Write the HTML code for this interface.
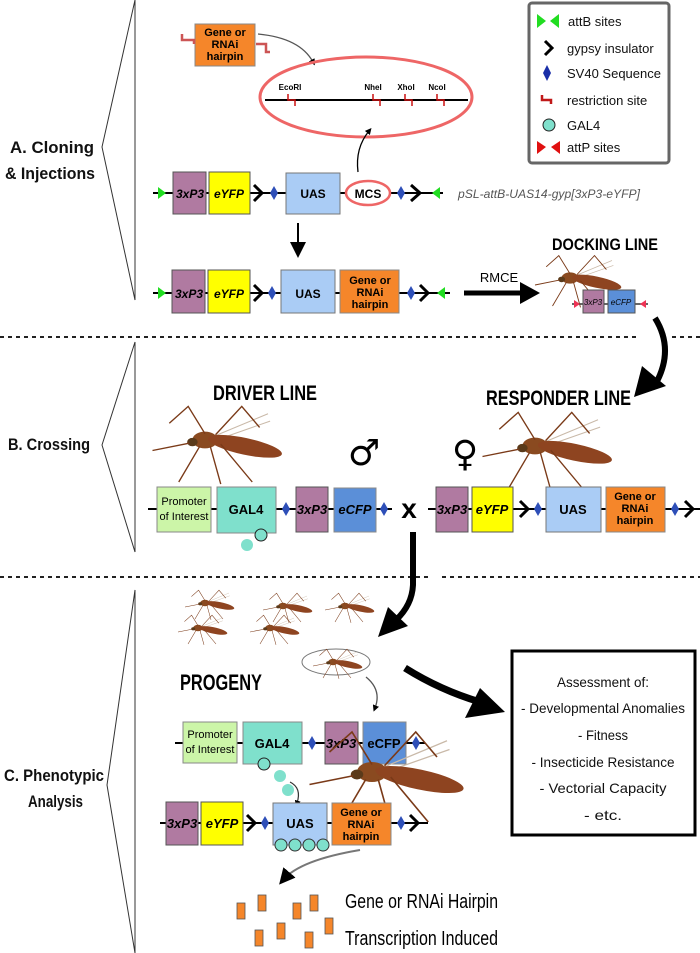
<!DOCTYPE html>
<html><head><meta charset="utf-8"><style>
body{margin:0;background:#fff}
svg{display:block}
text{font-family:"Liberation Sans",sans-serif}
.b{font-weight:bold}
</style></head><body>
<svg width="700" height="953" viewBox="0 0 700 953" xmlns="http://www.w3.org/2000/svg">
<defs>
<marker id="ah" markerWidth="8" markerHeight="8" refX="5" refY="4" orient="auto"><path d="M0,0 L8,4 L0,8 z" fill="#000"/></marker>
<marker id="bh" markerWidth="5" markerHeight="5" refX="2" refY="2.5" orient="auto"><path d="M0,0 L5,2.5 L0,5 z" fill="#000"/></marker>
<g id="mos">
<path d="M0,0 L60,-25 M5,2 L62,-18" stroke="#c9b9a8" stroke-width="1" fill="none"/>
<ellipse cx="0" cy="0" rx="12" ry="8" fill="#8a4a20"/>
<ellipse cx="38" cy="6" rx="36" ry="8" fill="#8e4420" transform="rotate(12 38 6)"/>
<ellipse cx="-12" cy="2" rx="5" ry="4" fill="#5a3a1a"/>
<path d="M-15,3 L-50,10 M-5,6 L-25,40 M5,6 L15,42 M10,-5 L35,-32 L52,-12 M0,-6 L-16,-32 L-34,-16 M15,4 L45,40" stroke="#7a3a18" stroke-width="1.3" fill="none"/>
</g>
</defs>

<!-- left brackets -->
<g fill="none" stroke="#333" stroke-width="1">
<path d="M135,0 L102,147 L135,300 Z"/>
<path d="M135,342 L102,445 L135,552 Z"/>
<path d="M135,590 L107,785 L135,953 Z"/>
</g>
<g class="b" font-size="17" fill="#111">
<text x="10" y="153" textLength="84" lengthAdjust="spacingAndGlyphs">A. Cloning</text>
<text x="5" y="179" textLength="90" lengthAdjust="spacingAndGlyphs">&amp; Injections</text>
<text x="8" y="450" textLength="82" lengthAdjust="spacingAndGlyphs">B. Crossing</text>
<text x="4" y="781" textLength="100" lengthAdjust="spacingAndGlyphs">C. Phenotypic</text>
<text x="28" y="807" textLength="55" lengthAdjust="spacingAndGlyphs">Analysis</text>
</g>
<!-- separators -->
<g stroke="#222" stroke-width="2" stroke-dasharray="4,4">
<line x1="0" y1="337" x2="640" y2="337"/><line x1="672" y1="337" x2="700" y2="337"/>
<line x1="0" y1="577" x2="432" y2="577"/><line x1="442" y1="577" x2="700" y2="577"/>
</g>

<!-- Legend -->
<rect x="529" y="3" width="140" height="160" rx="3" fill="#fff" stroke="#666" stroke-width="3"/>
<g font-size="13" fill="#111">
<polygon points="537,14 546,21 537,28" fill="#22dd22"/><polygon points="559,14 550,21 559,28" fill="#22dd22"/>
<text x="568" y="26">attB sites</text>
<polyline points="545,41 552,48 545,55" fill="none" stroke="#000" stroke-width="3"/>
<text x="567" y="53">gypsy insulator</text>
<polygon points="547,65 551,73 547,81 543,73" fill="#1a2fa8"/>
<text x="567" y="78">SV40 Sequence</text>
<path d="M542,95 L542,100 L551,100 L551,104" fill="none" stroke="#c01818" stroke-width="2.5"/>
<text x="567" y="105">restriction site</text>
<circle cx="549" cy="125" r="6" fill="#7fe0cc" stroke="#222" stroke-width="1"/>
<text x="567" y="130">GAL4</text>
<polygon points="537,141 546,147 537,154" fill="#e01010"/><polygon points="560,141 551,147 560,154" fill="#e01010"/>
<text x="567" y="152">attP sites</text>
</g>

<!-- Section A -->
<rect x="195" y="24" width="60" height="42" fill="#f5862a" stroke="#888"/>
<g class="b" font-size="11" text-anchor="middle"><text x="225" y="36">Gene or</text><text x="225" y="48">RNAi</text><text x="225" y="60">hairpin</text></g>
<path d="M182,34 L182,40 L194,40 L194,44 M256,44 L266,44 L266,52 L270,52" fill="none" stroke="#cc5555" stroke-width="2.5"/>
<path d="M258,34 Q300,38 313,62" fill="none" stroke="#555" stroke-width="1.3" marker-end="url(#bh)"/>
<ellipse cx="366" cy="97" rx="106" ry="40" fill="none" stroke="#ee6666" stroke-width="3"/>
<line x1="265" y1="100" x2="468" y2="100" stroke="#000" stroke-width="2"/>
<g fill="none" stroke="#cc1111" stroke-width="1.5">
<path d="M288,94 L288,100 L295,100 L295,106"/><path d="M373,94 L373,100 L380,100 L380,106"/><path d="M405,94 L405,100 L412,100 L412,106"/><path d="M437,94 L437,100 L444,100 L444,106"/>
</g>
<g class="b" font-size="8" text-anchor="middle"><text x="290" y="90">EcoRI</text><text x="373" y="90">NheI</text><text x="406" y="90">XhoI</text><text x="437" y="90">NcoI</text></g>
<path d="M358,172 Q355,148 369,131" fill="none" stroke="#000" stroke-width="1.3" marker-end="url(#bh)"/>

<!-- Row 1 -->
<line x1="153" y1="193" x2="443" y2="193" stroke="#000" stroke-width="2"/>
<polygon points="158,187 166,193 158,199" fill="#22dd22"/>
<rect x="173" y="172" width="33" height="42" fill="#b07aa1" stroke="#555"/>
<rect x="209" y="172" width="41" height="42" fill="#ffff00" stroke="#555"/>
<polyline points="254,185 262,193 254,201" fill="none" stroke="#000" stroke-width="3"/>
<polygon points="274,186 278,193 274,200 270,193" fill="#2e4fb8"/>
<rect x="286" y="173" width="54" height="41" fill="#aaccf5" stroke="#777"/>
<ellipse cx="368" cy="193" rx="22" ry="12" fill="#fff" stroke="#ee6666" stroke-width="2.5"/>
<polygon points="401,186 405,193 401,200 397,193" fill="#2e4fb8"/>
<polyline points="411,185 420,193 411,201" fill="none" stroke="#000" stroke-width="3"/>
<polygon points="440,187 432,193 440,199" fill="#22dd22"/>
<g class="b" font-size="12" text-anchor="middle"><text x="190" y="198" font-style="italic">3xP3</text><text x="229" y="198" font-style="italic">eYFP</text><text x="313" y="198">UAS</text><text x="368" y="198">MCS</text></g>
<text x="458" y="198" font-size="12" font-style="italic" fill="#555" textLength="182" lengthAdjust="spacingAndGlyphs">pSL-attB-UAS14-gyp[3xP3-eYFP]</text>
<line x1="298" y1="223" x2="298" y2="252" stroke="#000" stroke-width="2" marker-end="url(#ah)"/>

<!-- Row 2 -->
<line x1="153" y1="293" x2="450" y2="293" stroke="#000" stroke-width="2"/>
<polygon points="158,287 166,293 158,299" fill="#22dd22"/>
<rect x="172" y="270" width="33" height="43" fill="#b07aa1" stroke="#555"/>
<rect x="208" y="270" width="42" height="43" fill="#ffff00" stroke="#555"/>
<polyline points="254,285 262,293 254,301" fill="none" stroke="#000" stroke-width="3"/>
<polygon points="272,286 276,293 272,300 268,293" fill="#2e4fb8"/>
<rect x="281" y="270" width="54" height="43" fill="#aaccf5" stroke="#777"/>
<rect x="340" y="270" width="59" height="43" fill="#f5862a" stroke="#888"/>
<polygon points="411,286 415,293 411,300 407,293" fill="#2e4fb8"/>
<polyline points="420,285 428,293 420,301" fill="none" stroke="#000" stroke-width="3"/>
<polygon points="445,287 437,293 445,299" fill="#22dd22"/>
<g class="b" font-size="12" text-anchor="middle"><text x="189" y="298" font-style="italic">3xP3</text><text x="229" y="298" font-style="italic">eYFP</text><text x="308" y="298">UAS</text></g>
<g class="b" font-size="11" text-anchor="middle"><text x="370" y="284">Gene or</text><text x="370" y="296">RNAi</text><text x="370" y="308">hairpin</text></g>
<text x="499" y="282" font-size="13" text-anchor="middle">RMCE</text>
<line x1="464" y1="293" x2="522" y2="293" stroke="#000" stroke-width="5"/>
<polygon points="520,282 540,293 520,304" fill="#000"/>

<!-- Docking -->
<text x="552" y="250" class="b" font-size="17" textLength="106" lengthAdjust="spacingAndGlyphs">DOCKING LINE</text>
<use href="#mos" transform="translate(570,278) scale(0.7)"/>
<line x1="572" y1="304" x2="648" y2="304" stroke="#333" stroke-width="1.5"/>
<polygon points="574,300 580,304 574,308" fill="#ee3355"/><polygon points="646,300 640,304 646,308" fill="#ee3355"/>
<rect x="583" y="290" width="21" height="23" fill="#b07aa1" stroke="#555"/>
<rect x="608" y="290" width="27" height="23" fill="#5b8fd8" stroke="#555"/>
<text x="593" y="305" font-size="8" font-style="italic" text-anchor="middle">3xP3</text>
<text x="621" y="305" font-size="8" font-style="italic" text-anchor="middle">eCFP</text>
<path d="M655,318 Q675,350 655,385" fill="none" stroke="#000" stroke-width="6"/>
<polygon points="634,397 642,366 666,386" fill="#000"/>

<!-- Section B -->
<text x="213" y="400" class="b" font-size="21" textLength="104" lengthAdjust="spacingAndGlyphs">DRIVER LINE</text>
<text x="486" y="405" class="b" font-size="21" textLength="145" lengthAdjust="spacingAndGlyphs">RESPONDER LINE</text>
<use href="#mos" transform="translate(205,440) scale(1.05)"/>
<use href="#mos" transform="translate(535,446) scale(1.05)"/>
<text x="364" y="465" font-size="36" text-anchor="middle" style="font-family:'DejaVu Sans',sans-serif">♂</text>
<text x="465" y="466" font-size="36" text-anchor="middle" style="font-family:'DejaVu Sans',sans-serif">♀</text>
<line x1="148" y1="509" x2="392" y2="509" stroke="#000" stroke-width="2"/>
<rect x="157" y="487" width="54" height="45" fill="#ccf5a8" stroke="#888"/>
<rect x="217" y="487" width="59" height="46" fill="#7fe0cc" stroke="#888"/>
<polygon points="286,502 290,509 286,516 282,509" fill="#2e4fb8"/>
<rect x="296" y="487" width="32" height="45" fill="#b07aa1" stroke="#555"/>
<rect x="334" y="488" width="42" height="44" fill="#5b8fd8" stroke="#888"/>
<polygon points="384,502 388,509 384,516 380,509" fill="#2e4fb8"/>
<circle cx="247" cy="545" r="6" fill="#7fe0cc"/><circle cx="261" cy="535" r="6" fill="#7fe0cc" stroke="#222"/>
<g font-size="11" text-anchor="middle"><text x="184" y="505">Promoter</text><text x="184" y="520">of Interest</text></g>
<g class="b" font-size="13" text-anchor="middle"><text x="246" y="514">GAL4</text><text x="312" y="514" font-style="italic">3xP3</text><text x="355" y="514" font-style="italic">eCFP</text></g>
<text x="409" y="518" class="b" font-size="28" text-anchor="middle">x</text>
<line x1="428" y1="509" x2="700" y2="509" stroke="#000" stroke-width="2"/>
<rect x="436" y="487" width="32" height="45" fill="#b07aa1" stroke="#555"/>
<rect x="472" y="487" width="41" height="45" fill="#ffff00" stroke="#555"/>
<polyline points="520,501 528,509 520,517" fill="none" stroke="#000" stroke-width="3"/>
<polygon points="538,502 542,509 538,516 534,509" fill="#2e4fb8"/>
<rect x="546" y="487" width="55" height="45" fill="#aaccf5" stroke="#777"/>
<rect x="606" y="487" width="59" height="45" fill="#f5862a" stroke="#888"/>
<polygon points="675,502 679,509 675,516 671,509" fill="#2e4fb8"/>
<polyline points="685,501 693,509 685,517" fill="none" stroke="#000" stroke-width="3"/>
<g class="b" font-size="13" text-anchor="middle"><text x="452" y="514" font-style="italic">3xP3</text><text x="492" y="514" font-style="italic">eYFP</text><text x="573" y="514">UAS</text></g>
<g class="b" font-size="11" text-anchor="middle"><text x="635" y="500">Gene or</text><text x="635" y="512">RNAi</text><text x="635" y="524">hairpin</text></g>
<path d="M413,532 L413,585 Q412,605 396,620" fill="none" stroke="#000" stroke-width="6"/>
<polygon points="378,637 388,607 408,626" fill="#000"/>

<!-- Section C -->
<use href="#mos" transform="translate(205,603) scale(0.4)"/>
<use href="#mos" transform="translate(283,606) scale(0.4)"/>
<use href="#mos" transform="translate(345,606) scale(0.4)"/>
<use href="#mos" transform="translate(198,628) scale(0.4)"/>
<use href="#mos" transform="translate(270,628) scale(0.4)"/>
<ellipse cx="336" cy="662" rx="34" ry="13" fill="none" stroke="#777" stroke-width="1"/>
<use href="#mos" transform="translate(333,662) scale(0.4)"/>
<text x="180" y="690" class="b" font-size="22" textLength="82" lengthAdjust="spacingAndGlyphs">PROGENY</text>
<path d="M366,677 Q382,690 375,708" fill="none" stroke="#555" stroke-width="1.3" marker-end="url(#bh)"/>
<path d="M405,668 Q440,690 480,702" fill="none" stroke="#000" stroke-width="7"/>
<polygon points="505,712 465,718 480,688" fill="#000"/>
<rect x="512" y="651" width="183" height="184" fill="#fff" stroke="#000" stroke-width="3"/>
<g font-size="14" text-anchor="middle" fill="#111" lengthAdjust="spacingAndGlyphs">
<text x="603" y="687" textLength="92" lengthAdjust="spacingAndGlyphs">Assessment of:</text>
<text x="603" y="713" textLength="164" lengthAdjust="spacingAndGlyphs">- Developmental Anomalies</text>
<text x="603" y="740" textLength="50" lengthAdjust="spacingAndGlyphs">- Fitness</text>
<text x="603" y="767" textLength="143" lengthAdjust="spacingAndGlyphs">- Insecticide  Resistance</text>
<text x="603" y="793" textLength="127" lengthAdjust="spacingAndGlyphs">- Vectorial Capacity</text>
<text x="603" y="820" textLength="38" lengthAdjust="spacingAndGlyphs">- etc.</text>
</g>
<line x1="175" y1="743" x2="425" y2="743" stroke="#000" stroke-width="2"/>
<rect x="183" y="722" width="54" height="41" fill="#ccf5a8" stroke="#888"/>
<rect x="243" y="722" width="59" height="42" fill="#7fe0cc" stroke="#888"/>
<polygon points="312,736 316,743 312,750 308,743" fill="#2e4fb8"/>
<rect x="325" y="722" width="33" height="42" fill="#b07aa1" stroke="#555"/>
<rect x="363" y="722" width="43" height="42" fill="#5b8fd8" stroke="#888"/>
<polygon points="416,736 420,743 416,750 412,743" fill="#2e4fb8"/>
<g font-size="11" text-anchor="middle"><text x="210" y="738">Promoter</text><text x="210" y="753">of Interest</text></g>
<g class="b" font-size="13" text-anchor="middle"><text x="272" y="748">GAL4</text><text x="341" y="748" font-style="italic">3xP3</text><text x="384" y="748">eCFP</text></g>
<circle cx="264" cy="764" r="6" fill="#7fe0cc" stroke="#222"/><circle cx="280" cy="776" r="6" fill="#7fe0cc"/><circle cx="288" cy="790" r="6" fill="#7fe0cc"/>
<path d="M290,782 Q302,788 297,803" fill="none" stroke="#333" stroke-width="1.2" marker-end="url(#bh)"/>
<use href="#mos" transform="translate(372,772) scale(1.25)"/>
<line x1="160" y1="823" x2="428" y2="823" stroke="#000" stroke-width="2"/>
<rect x="166" y="802" width="32" height="43" fill="#b07aa1" stroke="#555"/>
<rect x="201" y="802" width="42" height="43" fill="#ffff00" stroke="#555"/>
<polyline points="247,815 255,823 247,831" fill="none" stroke="#000" stroke-width="3"/>
<polygon points="265,816 269,823 265,830 261,823" fill="#2e4fb8"/>
<rect x="273" y="803" width="54" height="42" fill="#aaccf5" stroke="#777"/>
<circle cx="281" cy="845" r="6" fill="#7fe0cc" stroke="#333"/><circle cx="295" cy="845" r="6" fill="#7fe0cc" stroke="#333"/><circle cx="309" cy="845" r="6" fill="#7fe0cc" stroke="#333"/><circle cx="323" cy="845" r="6" fill="#7fe0cc" stroke="#333"/>
<rect x="332" y="803" width="59" height="42" fill="#f5862a" stroke="#888"/>
<polygon points="401,816 405,823 401,830 397,823" fill="#2e4fb8"/>
<polyline points="410,815 418,823 410,831" fill="none" stroke="#000" stroke-width="3"/>
<g class="b" font-size="13" text-anchor="middle"><text x="182" y="828" font-style="italic">3xP3</text><text x="222" y="828" font-style="italic">eYFP</text><text x="300" y="828">UAS</text></g>
<g class="b" font-size="11" text-anchor="middle"><text x="361" y="816">Gene or</text><text x="361" y="828">RNAi</text><text x="361" y="840">hairpin</text></g>
<path d="M360,850 Q300,860 283,880" fill="none" stroke="#777" stroke-width="2" marker-end="url(#ah)"/>
<g fill="#f5862a" stroke="#555" stroke-width="0.8">
<rect x="237" y="903" width="8" height="16"/><rect x="258" y="895" width="8" height="16"/><rect x="277" y="923" width="8" height="16"/><rect x="293" y="903" width="8" height="16"/><rect x="310" y="895" width="8" height="16"/><rect x="255" y="930" width="8" height="16"/><rect x="305" y="932" width="8" height="16"/><rect x="325" y="918" width="8" height="16"/>
</g>
<text x="345" y="908" font-size="20" textLength="153" lengthAdjust="spacingAndGlyphs">Gene or RNAi Hairpin</text>
<text x="345" y="945" font-size="20" textLength="153" lengthAdjust="spacingAndGlyphs">Transcription  Induced</text>
</svg>
</body></html>
